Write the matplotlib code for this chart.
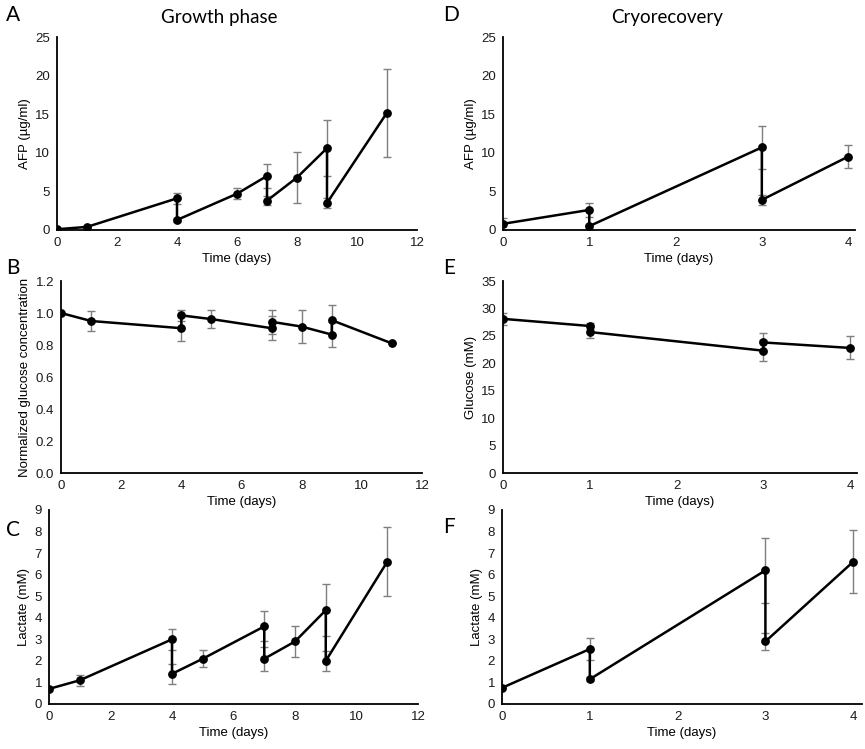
import matplotlib
matplotlib.use("Agg")
import matplotlib.pyplot as plt

plt.rcParams["font.family"] = ["Liberation Sans", "DejaVu Sans"]

# growth phase (left column)
growth_days = [0, 1, 4, 4, 5, 7, 7, 8, 9, 9, 11]
afp_growth_days = [0, 1, 4, 4, 6, 7, 7, 8, 9, 9, 11]
afp_growth = [0.1, 0.4, 4.1, 1.3, 4.7, 7.0, 3.8, 6.8, 10.6, 3.5, 15.2]
afp_growth_err = [0.1, 0.15, 0.7, 0.3, 0.7, 1.6, 0.6, 3.3, 3.6, 0.6, 5.7]
glucose_norm = [1.0, 0.95, 0.905, 0.985, 0.962, 0.905, 0.945, 0.915, 0.865, 0.955, 0.81]
glucose_norm_err = [0.0, 0.065, 0.08, 0.035, 0.055, 0.075, 0.075, 0.105, 0.08, 0.095, 0.0]
lactate_growth = [0.7, 1.1, 3.0, 1.4, 2.1, 3.6, 2.1, 2.9, 4.35, 2.0, 6.6]
lactate_growth_err = [0.05, 0.25, 0.5, 0.45, 0.4, 0.7, 0.55, 0.7, 1.2, 0.45, 1.6]

# cryorecovery (right column)
cryo_days = [0, 1, 1, 3, 3, 4]
afp_cryo = [0.8, 2.6, 0.5, 10.7, 3.9, 9.5]
afp_cryo_err = [0.75, 0.9, 0.15, 2.8, 0.6, 1.5]
glucose_cryo = [28.1, 26.8, 25.7, 22.3, 23.8, 22.8]
glucose_cryo_err = [1.1, 0.5, 1.0, 1.9, 1.7, 2.1]
lactate_cryo = [0.75, 2.55, 1.15, 6.2, 2.9, 6.6]
lactate_cryo_err = [0.05, 0.5, 0.08, 1.5, 0.4, 1.45]

W, H = 865, 749
fig = plt.figure(figsize=(W / 100, H / 100), dpi=100)


def make_axes(left, right, bottom, top):
    return fig.add_axes([left / W, 1 - bottom / H, (right - left) / W, (bottom - top) / H])


def draw(ax, x, y, err, ylabel, ylim, yticks, xlim, xticks, fmt="{:g}"):
    ax.errorbar(x, y, yerr=err, fmt="none", ecolor="#7f7f7f", elinewidth=1.0,
                capsize=3, capthick=1.0, zorder=2)
    ax.plot(x, y, color="black", lw=1.8, marker="o", ms=5.3, zorder=3)
    ax.set_xlim(*xlim)
    ax.set_ylim(*ylim)
    ax.set_xticks(xticks)
    ax.set_yticks(yticks)
    ax.set_yticklabels([fmt.format(t) for t in yticks])
    ax.tick_params(length=0, labelsize=9.5, colors="#1a1a1a", pad=5)
    ax.set_xlabel("Time (days)", fontsize=9.5, labelpad=3)
    ax.set_ylabel(ylabel, fontsize=9.5, labelpad=3)
    for side in ("top", "right"):
        ax.spines[side].set_visible(False)
    for side in ("left", "bottom"):
        ax.spines[side].set_linewidth(1.3)
    ax.patch.set_alpha(0)


axA = make_axes(57, 417, 230, 37)
draw(axA, afp_growth_days, afp_growth, afp_growth_err, "AFP (µg/ml)",
     (0, 25), range(0, 26, 5), (0, 12), range(0, 13, 2))
axB = make_axes(61, 422, 473, 281)
draw(axB, growth_days, glucose_norm, glucose_norm_err, "Normalized glucose concentration",
     (0, 1.2), [0, 0.2, 0.4, 0.6, 0.8, 1.0, 1.2], (0, 12), range(0, 13, 2), fmt="{:.1f}")
axC = make_axes(49, 418, 704, 510)
draw(axC, growth_days, lactate_growth, lactate_growth_err, "Lactate (mM)",
     (0, 9), range(0, 10), (0, 12), range(0, 13, 2))

axD = make_axes(503, 855, 230, 37)
draw(axD, cryo_days, afp_cryo, afp_cryo_err, "AFP (µg/ml)",
     (0, 25), range(0, 26, 5), (0, 4.08), range(0, 5))
axE = make_axes(503, 857, 473, 281)
draw(axE, cryo_days, glucose_cryo, glucose_cryo_err, "Glucose (mM)",
     (0, 35), range(0, 36, 5), (0, 4.08), range(0, 5))
axF = make_axes(502, 862, 704, 510)
draw(axF, cryo_days, lactate_cryo, lactate_cryo_err, "Lactate (mM)",
     (0, 9), range(0, 10), (0, 4.1), range(0, 5))

letter_kw = dict(fontsize=15, family=["Lato", "DejaVu Sans"], va="center", ha="left")
fig.text(6 / W, 1 - 15 / H, "A", **letter_kw)
fig.text(6 / W, 1 - 268 / H, "B", **letter_kw)
fig.text(6 / W, 1 - 530 / H, "C", **letter_kw)
fig.text(443 / W, 1 - 15 / H, "D", **letter_kw)
fig.text(443 / W, 1 - 268 / H, "E", **letter_kw)
fig.text(443 / W, 1 - 527 / H, "F", **letter_kw)

title_kw = dict(fontsize=13.5, family=["Lato", "DejaVu Sans"], va="center", ha="center")
fig.text(219 / W, 1 - 17 / H, "Growth phase", **title_kw)
fig.text(667 / W, 1 - 17 / H, "Cryorecovery", **title_kw)

fig.savefig("out.png", dpi=100)
